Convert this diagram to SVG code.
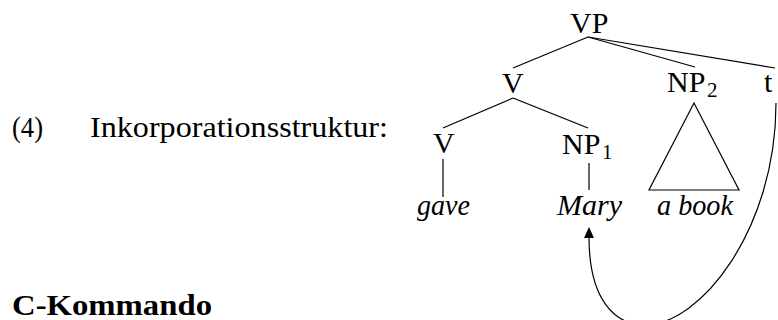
<svg xmlns="http://www.w3.org/2000/svg" width="778" height="320" viewBox="0 0 778 320">
<defs>
<style>
text { font-family: "Liberation Serif", "DejaVu Serif", serif; font-size: 30px; fill: #000; }
.it { font-style: italic; }
.sub { font-size: 21px; }
.b { font-weight: bold; }
.ln { stroke: #000; stroke-width: 1.2; fill: none; }
</style>
<marker id="arr" markerWidth="10" markerHeight="10" refX="5" refY="10" orient="auto" markerUnits="userSpaceOnUse" viewBox="0 0 10 10">
<path d="M0,0 L10,0 L5,10 Z" fill="#000" transform="rotate(180 5 5)"/>
</marker>
</defs>
<rect width="778" height="320" fill="#fff"/>
<g id="label-left">
<text x="12" y="137" textLength="31" lengthAdjust="spacingAndGlyphs">(4)</text>
<text x="90" y="137" textLength="298" lengthAdjust="spacingAndGlyphs">Inkorporationsstruktur:</text>
</g>
<g id="heading">
<text class="b" x="12" y="315" textLength="200" lengthAdjust="spacingAndGlyphs">C-Kommando</text>
</g>
<g id="connectors">
<line class="ln" x1="588" y1="37" x2="513" y2="68"/>
<line class="ln" x1="588" y1="37" x2="695" y2="67"/>
<line class="ln" x1="588" y1="37" x2="775" y2="68"/>
<line class="ln" x1="513" y1="98" x2="443" y2="128"/>
<line class="ln" x1="513" y1="98" x2="588" y2="128"/>
<line class="ln" x1="443" y1="159" x2="443" y2="197"/>
<line class="ln" x1="589" y1="163" x2="589" y2="190"/>
<path class="ln" d="M776,103 C776,230 700,325 645,325 C615,325 589,300 589,237"/>
<path d="M589,227 L584,238 L594,238 Z" fill="#000"/>
</g>
<g id="node-VP"><text x="570" y="33">VP</text></g>
<g id="node-V1"><text x="502" y="93">V</text></g>
<g id="node-NP2"><text x="667" y="92">NP</text><text class="sub" x="707" y="97">2</text></g>
<g id="node-t"><text x="764" y="92">t</text></g>
<g id="node-V2"><text x="433" y="153">V</text></g>
<g id="node-NP1"><text x="562" y="154">NP</text><text class="sub" x="602" y="159">1</text></g>
<g id="node-gave"><text class="it" x="417" y="215" textLength="53" lengthAdjust="spacingAndGlyphs">gave</text></g>
<g id="node-Mary"><text class="it" x="557" y="215" textLength="65" lengthAdjust="spacingAndGlyphs">Mary</text></g>
<g id="node-abook">
<path class="ln" d="M694,103 L649,190 L739,190 Z"/>
<text class="it" x="657" y="215" textLength="76" lengthAdjust="spacingAndGlyphs">a book</text>
</g>
</svg>
